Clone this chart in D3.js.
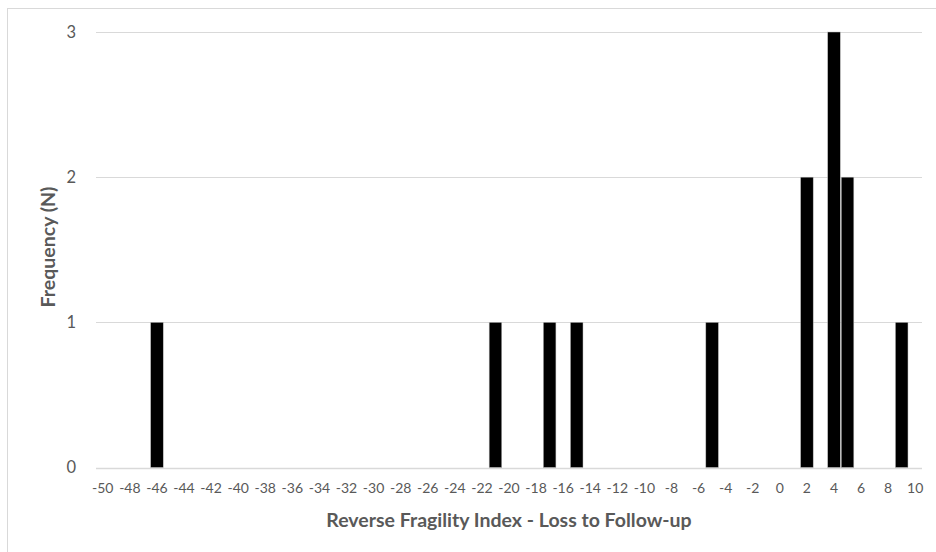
<!DOCTYPE html>
<html><head><meta charset="utf-8">
<script src="https://cdn.jsdelivr.net/npm/d3@7"></script>
<style>body{margin:0;background:#fff}svg{display:block}</style>
</head><body>
<svg id="c" width="936" height="552"></svg>
<script>
const xMin = -50, xMax = 10;
const barCategories = [-46, -21, -17, -15, -5, 2, 4, 5, 9];
const barCounts = [1, 1, 1, 1, 1, 2, 3, 2, 1];
const yTicks = [0, 1, 2, 3];
const xTitle = "Reverse Fragility Index - Loss to Follow-up";
const yTitle = "Frequency (N)";

const svg = d3.select("#c");
const font = "Lato, 'Open Sans', sans-serif";
const grey = "#595959";

svg.append("rect").attr("x", 7.5).attr("y", 8.5).attr("width", 1000).attr("height", 1000)
  .attr("fill", "none").attr("stroke", "#d9d9d9").attr("stroke-width", 1);

const cats = d3.range(xMin, xMax + 1);
const x = d3.scaleBand().domain(cats).range([96, 922]).paddingInner(0.07).paddingOuter(0.035);
const y = d3.scaleLinear().domain([0, 3]).range([467.5, 32]);

// gridlines
svg.append("g").selectAll("line").data(yTicks).join("line")
  .attr("x1", 96).attr("x2", 922)
  .attr("y1", d => Math.round(y(d)) + 0.5).attr("y2", d => Math.round(y(d)) + 0.5)
  .attr("stroke", "#d9d9d9").attr("stroke-width", d => d === 0 ? 1.5 : 1);

// y tick labels
svg.append("g").selectAll("text").data(yTicks).join("text")
  .attr("x", 76).attr("y", d => y(d)).attr("dy", "0.35em")
  .attr("text-anchor", "end").attr("font-family", font).attr("font-size", 16.5)
  .attr("fill", grey).text(d => d);

// x tick labels
const xl = cats.filter(d => d % 2 === 0);
svg.append("g").selectAll("text").data(xl).join("text")
  .attr("x", d => x(d) + x.bandwidth() / 2).attr("y", 493)
  .attr("text-anchor", "middle").attr("font-family", font).attr("font-size", 14)
  .attr("fill", grey).text(d => d);

// bars
const data = barCategories.map((c, i) => ({c, v: barCounts[i]}));
svg.append("g").selectAll("rect").data(data).join("rect")
  .attr("x", d => x(d.c)).attr("width", x.bandwidth())
  .attr("y", d => y(d.v)).attr("height", d => y(0) - y(d.v))
  .attr("fill", "#000").attr("stroke", "#bfbfbf").attr("stroke-width", 0.5);

// titles
svg.append("text").attr("x", 509).attr("y", 527).attr("text-anchor", "middle")
  .attr("font-family", font).attr("font-weight", "bold").attr("font-size", 19.5)
  .attr("fill", grey).text(xTitle);
svg.append("text").attr("transform", "translate(55,247) rotate(-90)").attr("text-anchor", "middle")
  .attr("font-family", font).attr("font-weight", "bold").attr("font-size", 19.5)
  .attr("fill", grey).text(yTitle);
</script>
</body></html>
